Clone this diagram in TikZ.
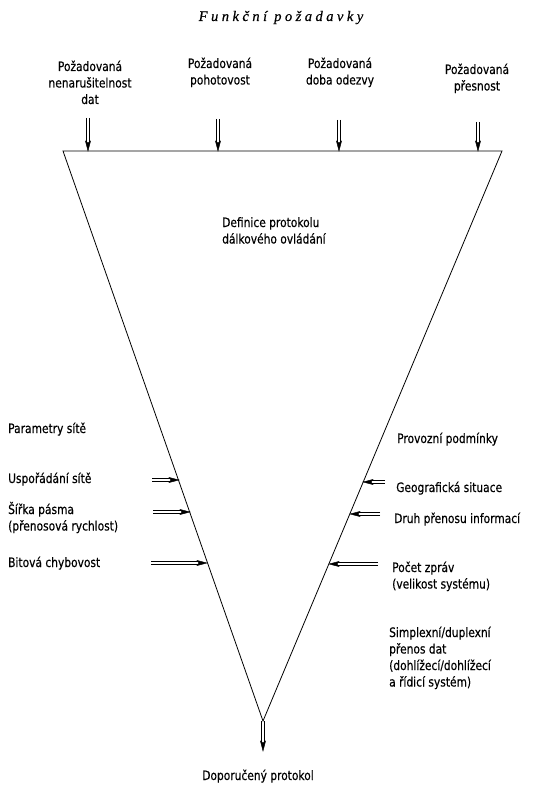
\documentclass[tikz,border=0pt]{standalone}
\usepackage{fontspec}
\setmainfont[FakeStretch=0.82,FakeBold=0.4]{DejaVu Sans}
\newfontfamily\titlefont[LetterSpace=24,FakeBold=0.6]{Liberation Serif}
\usetikzlibrary{arrows.meta,calc}
\begin{document}
\begin{tikzpicture}[x=1pt,y=-1pt,
  lbl/.style={inner sep=0pt, font=\fontsize{13}{16.5}\selectfont, align=left, anchor=base west},
  clbl/.style={inner sep=0pt, font=\fontsize{13}{16.5}\selectfont, align=center, anchor=base},
  shaftline/.style={draw=black, line width=0.8pt},
  headfill/.style={fill=black, draw=black, line width=0.4pt},
  edge/.style={draw, line width=0.8pt}]
\useasboundingbox (0,0) rectangle (539,789);
% title
\node[inner sep=0pt, anchor=base, font=\titlefont\itshape\fontsize{14.5}{17}\selectfont] (title) at (281,21) {Funkční požadavky};
% triangle
\coordinate (TL) at (63,151);
\coordinate (TR) at (502,151);
\coordinate (AP) at (263,721);
\draw[edge] (TL) -- (TR) -- (AP) -- cycle;
% top labels
\node[clbl] (r1) at (90,104) {Požadovaná\\nenarušitelnost\\dat};
\node[clbl] (r2) at (220,84.5) {Požadovaná\\pohotovost};
\node[clbl] (r3) at (340,84.5) {Požadovaná\\doba odezvy};
\node[clbl] (r4) at (477,90.5) {Požadovaná\\přesnost};
% arrows: two parallel lines + filled head
\newcommand{\arrhead}[2]{%
  \coordinate (hb) at ($(#2)!10pt!(#1)$);
  \coordinate (hi) at ($(#2)!8pt!(#1)$);
  \fill[headfill] (#2) -- ($(hb)!2.6pt!90:(#2)$) -- (hi) -- ($(hb)!2.6pt!-90:(#2)$) -- cycle;}
\newcommand{\varr}[2]{%
  \draw[shaftline] ([xshift=-1.3pt]#1) -- ([xshift=-1.3pt]$(#2)!8pt!(#1)$);
  \draw[shaftline] ([xshift=1.3pt]#1) -- ([xshift=1.3pt]$(#2)!8pt!(#1)$);
  \arrhead{#1}{#2}}
\newcommand{\harr}[2]{%
  \draw[shaftline] ([yshift=-1.3pt]#1) -- ([yshift=-1.3pt]$(#2)!8pt!(#1)$);
  \draw[shaftline] ([yshift=1.3pt]#1) -- ([yshift=1.3pt]$(#2)!8pt!(#1)$);
  \arrhead{#1}{#2}}
\coordinate (a1s) at (88,118); \coordinate (a1e) at (88,151);
\coordinate (a2s) at (218,119); \coordinate (a2e) at (218,151);
\coordinate (a3s) at (339,120); \coordinate (a3e) at (339,151);
\coordinate (a4s) at (478,122); \coordinate (a4e) at (478,151);
\varr{a1s}{a1e}
\varr{a2s}{a2e}
\varr{a3s}{a3e}
\varr{a4s}{a4e}
% center
\node[lbl] (def) at (222,243.5) {Definice protokolu\\dálkového ovládání};
% left
\node[lbl] (ps) at (8,433) {Parametry sítě};
\node[lbl] (us) at (8,483) {Uspořádání sítě};
\node[lbl] (sp) at (8,530.5) {Šířka pásma\\(přenosová rychlost)};
\node[lbl] (bc) at (8,567) {Bitová chybovost};
\coordinate (l1s) at (152,480); \coordinate (l1e) at (179,480);
\coordinate (l2s) at (153,512); \coordinate (l2e) at (190,512);
\coordinate (l3s) at (151,563); \coordinate (l3e) at (207,563);
\harr{l1s}{l1e}
\harr{l2s}{l2e}
\harr{l3s}{l3e}
% right
\node[lbl] (pp) at (397,443) {Provozní podmínky};
\node[lbl] (gs) at (396,492) {Geografická situace};
\node[lbl] (dp) at (394,523) {Druh přenosu informací};
\node[lbl] (pz) at (392,588.5) {Počet zpráv\\(velikost systému)};
\node[lbl] (sd) at (389,686.5) {Simplexní/duplexní\\přenos dat\\(dohlížecí/dohlížecí\\a řídicí systém)};
\coordinate (r1s) at (385,482); \coordinate (r1e) at (363,482);
\coordinate (r2s) at (380,514); \coordinate (r2e) at (350,514);
\coordinate (r3s) at (378,564); \coordinate (r3e) at (329,564);
\harr{r1s}{r1e}
\harr{r2s}{r2e}
\harr{r3s}{r3e}
% bottom
\coordinate (be) at (263,751);
\varr{AP}{be}
\node[clbl] (dpr) at (258,780) {Doporučený protokol};
\end{tikzpicture}
\end{document}
